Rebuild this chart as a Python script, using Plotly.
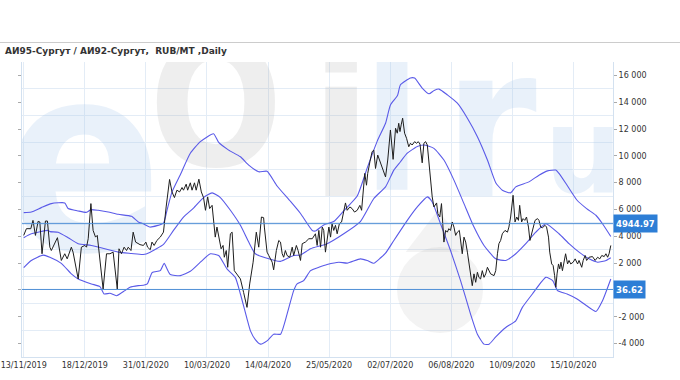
import plotly.graph_objects as go

# ---------------- data ----------------
title_text = "АИ95-Сургут / АИ92-Сургут,\u00a0 RUB/MT ,Daily"

tick_days = [0, 25, 50, 75, 100, 125, 150, 175, 200, 225]
tick_dates = ["13/11/2019", "18/12/2019", "31/01/2020", "10/03/2020", "14/04/2020",
              "25/05/2020", "02/07/2020", "06/08/2020", "10/09/2020", "15/10/2020"]

y_tick_vals = [-4000, -2000, 0, 2000, 4000, 6000, 8000, 10000, 12000, 14000, 16000]
y_tick_text = ["-4 000", "-2 000", "", "2 000", "4 000", "6 000", "8 000",
               "10 000", "12 000", "14 000", "16 000"]

# trading-day index of each reading and the spread (RUB/MT)
price_day = [0, 1.1, 2.9, 3.8, 4.8, 5.9, 6.6, 7.5, 8.9, 9.7,
             10.7, 11.3, 13.8, 15.4, 16.8, 17.8, 19.5, 20.2, 22.3, 23.6,
             25.0, 25.7, 26.4, 27.5, 28.4, 29.4, 30.1, 31.2, 32.5, 33.9,
             35.3, 36.6, 38.3, 39.0, 40.0, 41.1, 42.1, 42.8, 43.9, 44.8,
             45.8, 47.6, 49.0, 50.0, 50.7, 51.8, 52.5, 53.4, 54.5, 55.9,
             57.2, 58.3, 59.7, 60.7, 61.7, 62.7, 63.8, 64.8, 65.4, 66.5,
             67.1, 68.2, 68.9, 69.9, 70.6, 71.7, 72.7, 73.6, 74.4, 75.3,
             76.1, 77.1, 77.7, 78.4, 79.1, 80.1, 80.8, 81.6, 82.1, 82.9,
             83.5, 84.6, 85.3, 86.2, 87.3, 88.7, 90.0, 91.4, 92.5, 93.9,
             95.2, 96.2, 97.3, 98.2, 98.5, 99.6, 100.3, 101.7, 102.3, 103.4,
             104.4, 105.1, 105.8, 106.4, 107.1, 107.8, 108.9, 109.9, 110.5, 111.6,
             112.3, 113.3, 114.0, 115.3, 116.7, 118.1, 119.4, 120.1, 120.8, 121.5,
             122.2, 122.8, 123.5, 124.2, 124.9, 125.6, 126.2, 126.9, 127.6, 128.3,
             129.2, 130.1, 130.8, 131.7, 132.4, 133.5, 134.4, 135.4, 136.5, 137.6,
             138.3, 139.0, 139.6, 140.3, 140.8, 141.7, 142.6, 143.3, 144.0, 144.9,
             146.0, 147.1, 148.1, 149.0, 150.1, 151.2, 152.2, 152.9, 153.5, 154.0,
             154.5, 155.1, 155.9, 156.7, 157.6, 158.3, 159.0, 160.0, 160.8, 161.5,
             162.2, 163.1, 163.8, 164.5, 165.2, 165.8, 166.5, 167.2, 167.9, 169.0,
             169.5, 170.3, 171.0, 171.7, 172.0, 172.7, 173.4, 174.0, 174.7, 175.4,
             176.1, 176.8, 177.5, 178.3, 178.8, 179.5, 180.2, 180.9, 181.6, 182.2,
             182.9, 183.6, 184.3, 185.0, 185.7, 186.3, 187.0, 187.7, 188.4, 189.1,
             189.8, 190.4, 191.1, 192.5, 193.2, 193.9, 194.5, 195.2, 195.9, 197.0,
             198.0, 198.6, 199.3, 200.3, 201.1, 201.8, 202.5, 203.0, 203.8, 204.4,
             205.1, 205.8, 206.6, 207.2, 207.9, 208.6, 209.3, 210.3, 210.9, 211.6,
             212.3, 213.4, 214.0, 214.8, 215.3, 216.1, 216.7, 217.3, 217.8, 218.3,
             218.9, 219.4, 219.9, 220.5, 221.1, 221.8, 222.6, 223.2, 223.9, 224.9,
             225.7, 226.7, 227.3, 228.4, 229.0, 229.8, 230.4, 231.4, 232.8, 233.9,
             234.9, 235.8, 236.6, 237.6, 238.3, 239.0, 239.6, 240.3]
price = [4070, 4570, 4570, 5190, 4070, 5120, 5070, 2700, 5140, 5140,
         3190, 2940, 3900, 2200, 2700, 2320, 3190, 2820, 820, 3190,
         3320, 3190, 3820, 6440, 4440, 3940, 4070, 2200, 70, 2700,
         2700, 2820, 70, 3070, 2700, 3190, 2940, 3190, 2940, 4310,
         3570, 3380, 3320, 3570, 3190, 3000, 3570, 3320, 3690, 3940,
         4310, 6190, 8240, 7310, 6890, 7440, 7310, 7640, 7440, 7890,
         7440, 7990, 7440, 7990, 7440, 8260, 7310, 6890, 5940, 6940,
         6070, 6310, 5070, 3940, 4690, 3570, 3070, 3320, 2440, 2940,
         1690, 4190, 4310, 1440, 1200, 820, -180, -1300, 450, 2070,
         4310, 3190, 5440, 5390, 4690, 2820, 2570, 2070, 1500, 2940,
         3690, 3570, 2700, 2440, 2940, 2570, 2440, 3190, 2570, 3320,
         2940, 2200, 3450, 3570, 3820, 3820, 4190, 3320, 4440, 3190,
         4690, 4440, 2820, 3690, 4690, 3940, 4940, 4440, 4820, 4190,
         4940, 5070, 5690, 6490, 5940, 6190, 6070, 5810, 5940, 6310,
         5940, 7560, 8690, 7810, 8690, 9560, 10310, 10430, 9060, 10060,
         9560, 8940, 8430, 9690, 11930, 9740, 12060, 11690, 12430, 11810,
         12310, 12810, 11690, 11310, 10680, 10940, 10810, 11060, 10940, 11060,
         10880, 9480, 10940, 11060, 10810, 9440, 8430, 6940, 6190, 6490,
         5690, 5440, 6440, 4690, 3570, 4440, 4310, 4570, 4440, 5070,
         4690, 4070, 4310, 4440, 3690, 2700, 3940, 3570, 2820, 1940,
         1200, 320, 1200, 570, 1320, 940, 820, 1440, 940, 1200,
         1690, 1440, 1200, 1070, 1440, 2700, 3450, 3690, 4190, 4440,
         4310, 4690, 5440, 7060, 5070, 5440, 5190, 6310, 5070, 5320,
         5190, 5440, 4690, 3690, 4190, 4690, 5190, 5320, 5190, 4690,
         4640, 4820, 4690, 3940, 2820, 1940, 1820, 1070, 200, 1200,
         1940, 1570, 2070, 1440, 2200, 2700, 1940, 2200, 1940, 2070,
         2320, 1940, 2200, 1690, 2200, 2570, 2200, 2440, 2490, 2200,
         2440, 2320, 2570, 2490, 2700, 2440, 2700, 3320]

upper_day = [0, 3.1, 7.2, 11.3, 16.8, 18.2, 22.3, 25.7, 27.5, 30.5,
             34.6, 38.7, 44.1, 46.9, 48.9, 51.8, 57.2, 58.6, 60.7, 64.1,
             68.2, 72.3, 77.7, 79.8, 83.9, 88.7, 92.1, 96.2, 99.6, 103.7,
             109.2, 113.3, 118.1, 119.4, 122.8, 126.9, 131.0, 136.5, 140.6, 144.7,
             148.1, 150.1, 153.0, 154.2, 158.3, 160.0, 163.1, 165.9, 168.0, 170.0,
             173.4, 177.5, 181.6, 185.7, 189.8, 193.2, 195.9, 199.3, 201.4, 206.8,
             210.9, 214.4, 217.8, 219.1, 222.4, 226.5, 230.4, 234.2, 236.9, 240.3]
upper = [5770, 5810, 6140, 6440, 6490, 6070, 5890, 5790, 5990, 5940,
         5810, 5640, 5490, 5070, 4940, 4690, 4990, 5900, 7310, 8600,
         10190, 11060, 11650, 11000, 10430, 9930, 9310, 8810, 8850, 7750,
         6600, 5700, 4440, 4400, 4850, 5100, 5900, 7000, 9100, 11100,
         12430, 13800, 14500, 15300, 15810, 15800, 15060, 14630, 14880, 14980,
         14550, 13930, 12810, 11430, 9690, 8000, 7440, 7240, 7690, 8060,
         8560, 8880, 8940, 8690, 7810, 6690, 6070, 5570, 4940, 3990]

mid_day = [0, 3.1, 10.0, 10.8, 14.1, 18.2, 22.3, 27.7, 33.2, 38.7,
           44.1, 48.9, 51.8, 57.2, 61.3, 65.4, 69.5, 73.6, 77.1, 80.5,
           84.6, 88.7, 92.1, 94.8, 98.9, 105.1, 110.5, 113.3, 117.4, 124.2,
           131.0, 137.8, 143.3, 148.1, 151.5, 154.2, 157.0, 161.1, 163.8, 167.9,
           172.0, 176.1, 180.2, 184.3, 188.4, 193.2, 197.3, 201.4, 205.5, 209.6,
           213.7, 219.1, 223.2, 227.3, 231.4, 234.9, 238.4, 240.3]
mid = [3900, 4190, 4440, 4350, 4310, 3900, 3450, 3320, 3070, 2820,
       2720, 2640, 2820, 3400, 4440, 5440, 6100, 6890, 7240, 6890,
       5940, 4820, 3570, 2700, 2400, 2130, 2570, 2600, 3070, 3450,
       4190, 5100, 6820, 7690, 8940, 9560, 10200, 10700, 10810, 10560,
       9690, 8190, 6440, 4690, 3320, 2320, 2200, 2700, 3450, 4310,
       4940, 4190, 3450, 2820, 2320, 2070, 2200, 2400]

low_day = [0, 3.1, 7.9, 10.7, 15.4, 19.5, 22.3, 27.7, 31.2, 32.9,
           35.3, 38.0, 41.4, 43.5, 46.9, 49.0, 50.6, 52.6, 55.9, 57.5,
           58.6, 60.0, 64.1, 68.2, 72.3, 76.4, 79.8, 83.2, 86.6, 88.7,
           91.4, 92.8, 94.8, 96.9, 99.6, 102.3, 105.1, 107.8, 110.5, 111.9,
           114.6, 117.4, 120.8, 124.2, 129.0, 132.4, 137.8, 140.6, 143.3, 146.1,
           148.1, 151.5, 157.0, 161.1, 165.2, 167.2, 170.6, 174.7, 178.8, 182.9,
           185.7, 188.4, 190.5, 193.2, 197.3, 201.4, 204.1, 208.2, 213.7, 216.5,
           218.5, 222.4, 226.5, 230.4, 234.2, 236.9, 240.3]
lower = [1670, 2200, 2600, 2440, 1980, 1200, 820, 450, 250, -300,
         -250, -430, -50, 200, 320, 350, 450, 1300, 1440, 1990,
         1600, 1150, 1070, 1390, 2070, 2700, 2570, 1570, 940, -300,
         -2150, -3050, -3700, -4040, -3800, -3300, -3300, -1800, -50, 450,
         700, 1440, 1690, 1900, 2070, 2000, 2320, 2200, 1990, 2400,
         2740, 3690, 5190, 6190, 6940, 6560, 4940, 2940, 700, -1800,
         -3300, -4040, -4040, -3500, -2800, -2300, -1300, -300, 940, 700,
         -50, -300, -670, -1180, -1600, -800, 820]

level_high = 4944.97
level_low = 36.62

# ---------------- layout geometry / style ----------------
W, H = 680, 380
L, R, T, B = 22, 67, 62, 23
PW, PH = W - L - R, H - T - B
X_RANGE = [-0.7, 241.2]
Y_RANGE = [-5000, 17000]


def paper_x(px):
    return (px - L) / PW


def paper_y(py):
    return (H - B - py) / PH


FONT = "DejaVu Sans, Verdana, sans-serif"
GRID = "#e3ecf6"
AXLINE = "#d3e1f0"
BAND = "#5a5ae8"
LEVEL = "#4f8fd6"
LABEL_BG = "#2d7ed6"
WM_BLUE = "rgba(170,200,235,0.26)"
WM_GREY = "rgba(170,170,170,0.20)"

fig = go.Figure()

# faint "eOil.ru" watermark, drawn first so the data sits on top of it
wm_text = ["e", "O", "i", "l", "r", "u"]
wm_x = [24.3, 78.7, 129.9, 150.8, 190.9, 229.0]
wm_y = [7830, 12500, 10740, 11100, 10960, 9540]
wm_size = [260, 175, 200, 195, 210, 120]
wm_col = [WM_BLUE, WM_GREY, WM_GREY, WM_BLUE, WM_BLUE, WM_BLUE]
fig.add_trace(go.Scatter(
    x=wm_x, y=wm_y, mode="text", text=wm_text, textposition="middle center",
    textfont=dict(family="DejaVu Sans Condensed, DejaVu Sans, sans-serif",
                  size=wm_size, color=wm_col, weight="bold"),
    hoverinfo="skip", showlegend=False))
fig.add_trace(go.Scatter(
    x=[170.4, 169.6], y=[0, 3880], mode="markers",
    marker=dict(symbol=["circle", "triangle-up"], size=[86, 56], color=WM_GREY,
                line=dict(width=0)),
    hoverinfo="skip", showlegend=False))

for xs, ys in ((upper_day, upper), (mid_day, mid), (low_day, lower)):
    fig.add_trace(go.Scatter(x=xs, y=ys, mode="lines",
                             line=dict(color=BAND, width=1.1, shape="spline", smoothing=0.5),
                             hoverinfo="skip", showlegend=False))

fig.add_trace(go.Scatter(x=price_day, y=price, mode="lines",
                         line=dict(color="#1e1e1e", width=1),
                         showlegend=False))

# horizontal levels across the whole plot width
for lv in (level_high, level_low):
    fig.add_trace(go.Scatter(x=X_RANGE, y=[lv, lv], mode="lines",
                             line=dict(color=LEVEL, width=1),
                             hoverinfo="skip", showlegend=False))
    fig.add_annotation(xref="paper", x=1, xanchor="left", yref="y", y=lv, yanchor="middle",
                       text=f"<b>{lv:.2f}</b>", showarrow=False,
                       font=dict(family=FONT, size=8.5, color="white"),
                       bgcolor=LABEL_BG, borderpad=2, height=13)

# title and the rule above it
fig.add_annotation(xref="paper", yref="paper", x=paper_x(3), y=paper_y(51),
                   xanchor="left", yanchor="middle", showarrow=False,
                   text=f"<b>{title_text}</b>",
                   font=dict(family=FONT, size=9, color="#333333"))
fig.add_shape(type="line", xref="paper", yref="paper",
              x0=paper_x(0), x1=paper_x(W), y0=paper_y(42.5), y1=paper_y(42.5),
              line=dict(color="#cccccc", width=1))

fig.update_layout(
    width=W, height=H, margin=dict(l=L, r=R, t=T, b=B, autoexpand=False),
    paper_bgcolor="white", plot_bgcolor="white",
    showlegend=False,
    font=dict(family=FONT, size=8, color="#333333"),
    xaxis=dict(range=X_RANGE, tickmode="array", tickvals=tick_days, ticktext=tick_dates,
               showgrid=True, gridcolor=GRID, gridwidth=1, zeroline=False,
               showline=True, linecolor=AXLINE, ticks="", automargin=False,
               tickfont=dict(family=FONT, size=8, color="#333333")),
    yaxis=dict(side="right", range=Y_RANGE, tickmode="array",
               tickvals=y_tick_vals, ticktext=y_tick_text,
               showgrid=False, zeroline=False, automargin=False,
               minor=dict(tick0=1000, dtick=2000, showgrid=True, gridcolor=GRID, ticks=""),
               showline=True, linecolor=AXLINE, mirror="ticks",
               ticks="outside", ticklen=3, tickcolor="#aaaaaa",
               tickfont=dict(family=FONT, size=8, color="#333333")),
)

fig.write_html("out.html",
               config={"displayModeBar": False},
               post_script="document.body.style.margin='0';document.body.style.overflow='hidden';")
